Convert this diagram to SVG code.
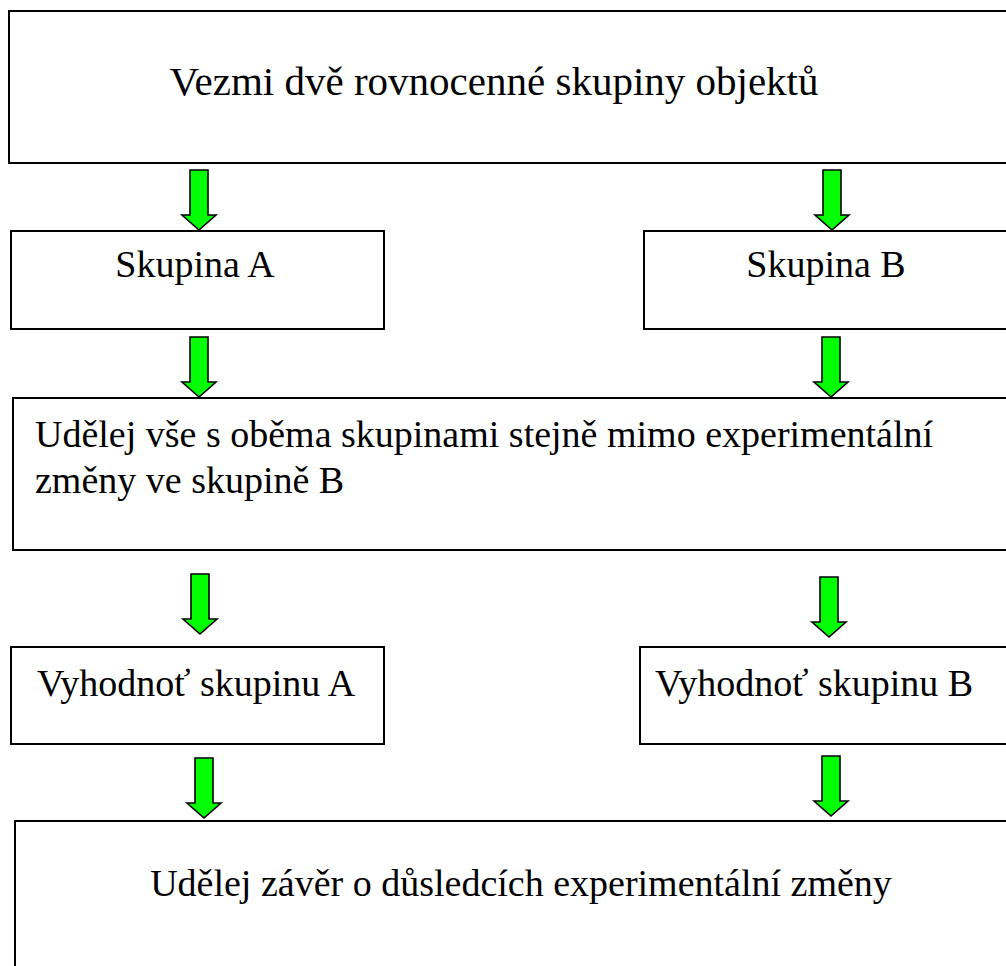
<svg xmlns="http://www.w3.org/2000/svg" width="1006" height="966" viewBox="0 0 1006 966">
<defs>
<style>
.box{fill:#fff;stroke:#000;stroke-width:2}
.t{font-family:"Liberation Serif","Times New Roman",serif;font-size:38px;fill:#000}
.big{font-size:41px}
.c{text-anchor:middle}
.arr{fill:#00ff00;stroke:#000;stroke-width:1.6;stroke-linejoin:miter}
</style>
<path id="arrow" d="M -9,-60 H 9 V -15 H 17 L 0,0 L -17,-15 H -9 Z"/>
</defs>
<rect width="1006" height="966" fill="#fff"/>
<g id="n1"><rect class="box" x="9" y="11" width="1010" height="152"/><text class="t c big" x="494" y="95">Vezmi dvě rovnocenné skupiny objektů</text></g>
<g id="n2"><rect class="box" x="11" y="231" width="373" height="98"/><text class="t c" x="195" y="277">Skupina A</text></g>
<g id="n3"><rect class="box" x="644" y="231" width="380" height="98"/><text class="t c" x="826" y="277">Skupina B</text></g>
<g id="n4"><rect class="box" x="13" y="398" width="1010" height="152"/><text class="t" x="35" y="447">Udělej vše s oběma skupinami stejně mimo experimentální</text><text class="t" x="35" y="493">změny ve skupině B</text></g>
<g id="n5"><rect class="box" x="11" y="647" width="373" height="97"/><text class="t" x="37" y="696">Vyhodnoť skupinu A</text></g>
<g id="n6"><rect class="box" x="640" y="647" width="380" height="97"/><text class="t" x="655" y="696">Vyhodnoť skupinu B</text></g>
<g id="n7"><rect class="box" x="15" y="821" width="1010" height="160"/><text class="t c" x="521" y="896">Udělej závěr o důsledcích experimentální změny</text></g>
<g id="connectors" class="arr">
<use href="#arrow" transform="translate(199,230)"/>
<use href="#arrow" transform="translate(832,230)"/>
<use href="#arrow" transform="translate(199,397)"/>
<use href="#arrow" transform="translate(831,397)"/>
<use href="#arrow" transform="translate(200,634)"/>
<use href="#arrow" transform="translate(829,637)"/>
<use href="#arrow" transform="translate(204,818)"/>
<use href="#arrow" transform="translate(831,816)"/>
</g>
</svg>
